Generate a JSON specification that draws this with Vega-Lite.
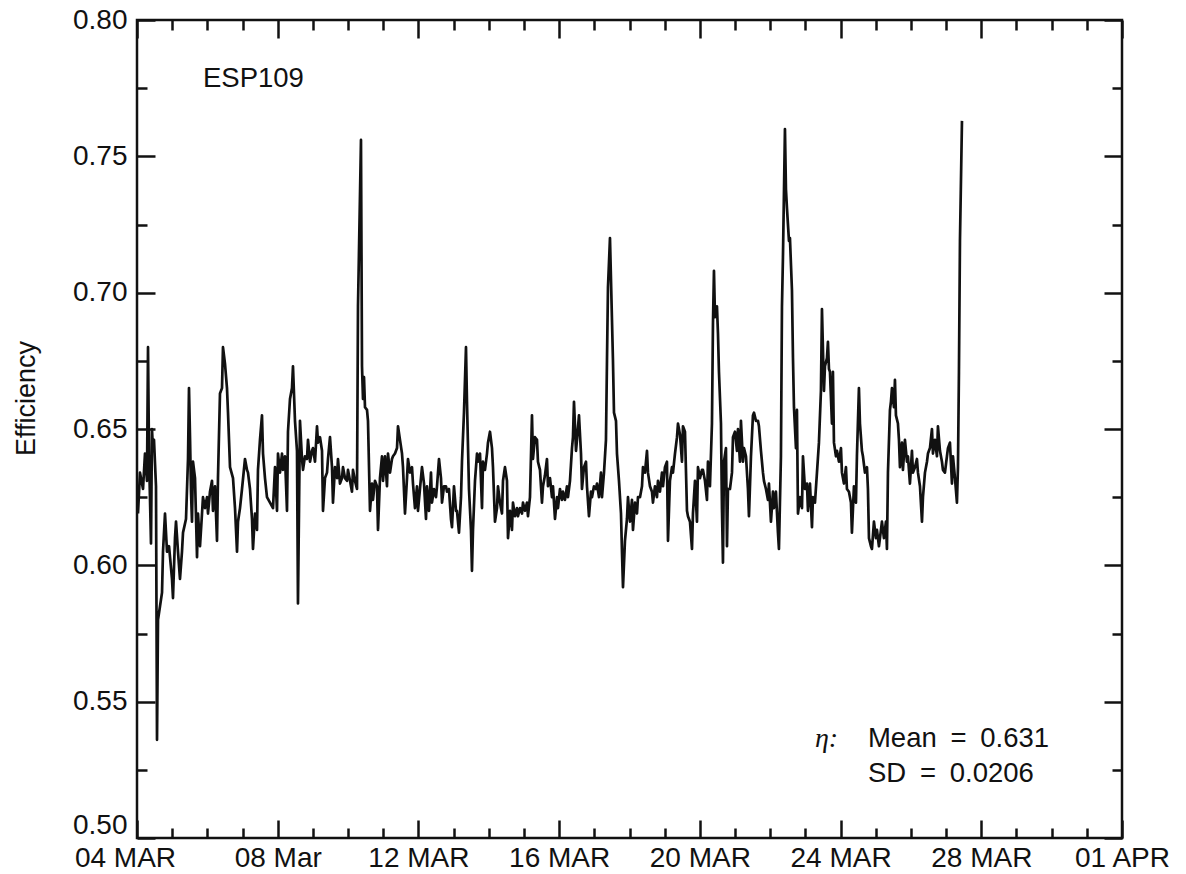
{
  "$schema": "https://vega.github.io/schema/vega-lite/v6.json",
  "width": 985,
  "height": 818,
  "autosize": {"type": "none"},
  "padding": {"left": 137, "top": 20, "right": 64, "bottom": 36},
  "background": "white",
  "config": {
    "font": "Liberation Sans",
    "view": {"stroke": "#111111", "strokeWidth": 2.5},
    "axis": {
      "grid": false,
      "domain": false,
      "tickColor": "#111111",
      "tickWidth": 2.5,
      "labelColor": "#111111",
      "labelFont": "Liberation Sans",
      "labelFontSize": 28,
      "labelOverlap": false,
      "labelFlush": false,
      "labelBound": false,
      "titleFont": "Liberation Sans",
      "titleFontWeight": "normal",
      "titleFontSize": 27,
      "titleColor": "#111111"
    }
  },
  "data": {"values": [
    {"day":4.028,"eff":0.619},{"day":4.085,"eff":0.634},{"day":4.171,"eff":0.628},{"day":4.227,"eff":0.641},{"day":4.284,"eff":0.631},{"day":4.313,"eff":0.680},{"day":4.341,"eff":0.641},{"day":4.398,"eff":0.608},{"day":4.426,"eff":0.650},{"day":4.455,"eff":0.642},{"day":4.483,"eff":0.646},{"day":4.540,"eff":0.629},{"day":4.569,"eff":0.536},{"day":4.597,"eff":0.580},{"day":4.654,"eff":0.585},{"day":4.711,"eff":0.590},{"day":4.739,"eff":0.605},{"day":4.796,"eff":0.619},{"day":4.853,"eff":0.605},{"day":4.910,"eff":0.607},{"day":4.995,"eff":0.595},{"day":5.023,"eff":0.588},{"day":5.080,"eff":0.610},{"day":5.109,"eff":0.616},{"day":5.165,"eff":0.605},{"day":5.222,"eff":0.595},{"day":5.279,"eff":0.605},{"day":5.308,"eff":0.612},{"day":5.393,"eff":0.617},{"day":5.450,"eff":0.639},{"day":5.478,"eff":0.665},{"day":5.507,"eff":0.647},{"day":5.535,"eff":0.627},{"day":5.563,"eff":0.616},{"day":5.592,"eff":0.638},{"day":5.649,"eff":0.632},{"day":5.706,"eff":0.603},{"day":5.734,"eff":0.619},{"day":5.791,"eff":0.607},{"day":5.848,"eff":0.619},{"day":5.876,"eff":0.625},{"day":5.933,"eff":0.621},{"day":5.990,"eff":0.625},{"day":6.018,"eff":0.619},{"day":6.075,"eff":0.627},{"day":6.132,"eff":0.631},{"day":6.160,"eff":0.620},{"day":6.217,"eff":0.629},{"day":6.274,"eff":0.609},{"day":6.302,"eff":0.632},{"day":6.359,"eff":0.663},{"day":6.416,"eff":0.665},{"day":6.444,"eff":0.680},{"day":6.501,"eff":0.674},{"day":6.558,"eff":0.665},{"day":6.587,"eff":0.656},{"day":6.644,"eff":0.636},{"day":6.729,"eff":0.632},{"day":6.786,"eff":0.621},{"day":6.843,"eff":0.605},{"day":6.871,"eff":0.616},{"day":6.928,"eff":0.621},{"day":6.985,"eff":0.628},{"day":7.070,"eff":0.639},{"day":7.127,"eff":0.635},{"day":7.155,"eff":0.634},{"day":7.212,"eff":0.628},{"day":7.269,"eff":0.617},{"day":7.297,"eff":0.606},{"day":7.354,"eff":0.619},{"day":7.411,"eff":0.613},{"day":7.439,"eff":0.635},{"day":7.496,"eff":0.646},{"day":7.553,"eff":0.655},{"day":7.582,"eff":0.641},{"day":7.638,"eff":0.632},{"day":7.695,"eff":0.625},{"day":7.781,"eff":0.623},{"day":7.866,"eff":0.621},{"day":7.923,"eff":0.636},{"day":7.980,"eff":0.620},
    {"day":8.008,"eff":0.641},{"day":8.065,"eff":0.634},{"day":8.122,"eff":0.641},{"day":8.150,"eff":0.635},{"day":8.207,"eff":0.640},{"day":8.264,"eff":0.620},{"day":8.292,"eff":0.649},{"day":8.349,"eff":0.661},{"day":8.406,"eff":0.665},{"day":8.434,"eff":0.673},{"day":8.491,"eff":0.653},{"day":8.548,"eff":0.642},{"day":8.576,"eff":0.586},{"day":8.633,"eff":0.653},{"day":8.690,"eff":0.639},{"day":8.719,"eff":0.635},{"day":8.775,"eff":0.640},{"day":8.832,"eff":0.639},{"day":8.861,"eff":0.646},{"day":8.918,"eff":0.638},{"day":8.974,"eff":0.642},{"day":9.003,"eff":0.643},{"day":9.060,"eff":0.638},{"day":9.117,"eff":0.651},{"day":9.145,"eff":0.645},{"day":9.202,"eff":0.647},{"day":9.259,"eff":0.642},{"day":9.287,"eff":0.620},{"day":9.344,"eff":0.632},{"day":9.401,"eff":0.634},{"day":9.429,"eff":0.639},{"day":9.486,"eff":0.647},{"day":9.543,"eff":0.636},{"day":9.571,"eff":0.623},{"day":9.628,"eff":0.636},{"day":9.685,"eff":0.632},{"day":9.713,"eff":0.639},{"day":9.770,"eff":0.630},{"day":9.827,"eff":0.632},{"day":9.856,"eff":0.636},{"day":9.912,"eff":0.632},{"day":9.969,"eff":0.631},{"day":9.998,"eff":0.635},{"day":10.055,"eff":0.631},{"day":10.111,"eff":0.627},{"day":10.140,"eff":0.635},{"day":10.197,"eff":0.631},{"day":10.254,"eff":0.628},{"day":10.282,"eff":0.695},{"day":10.367,"eff":0.756},{"day":10.396,"eff":0.673},{"day":10.424,"eff":0.661},{"day":10.453,"eff":0.669},{"day":10.481,"eff":0.658},{"day":10.538,"eff":0.657},{"day":10.566,"eff":0.653},{"day":10.623,"eff":0.620},{"day":10.680,"eff":0.630},{"day":10.708,"eff":0.624},{"day":10.765,"eff":0.631},{"day":10.822,"eff":0.629},{"day":10.851,"eff":0.613},{"day":10.907,"eff":0.632},{"day":10.964,"eff":0.640},{"day":10.993,"eff":0.631},{"day":11.049,"eff":0.640},{"day":11.106,"eff":0.629},{"day":11.135,"eff":0.641},{"day":11.192,"eff":0.634},{"day":11.248,"eff":0.639},{"day":11.277,"eff":0.640},{"day":11.334,"eff":0.641},{"day":11.391,"eff":0.643},{"day":11.419,"eff":0.651},{"day":11.476,"eff":0.646},{"day":11.533,"eff":0.641},{"day":11.561,"eff":0.636},{"day":11.618,"eff":0.619},{"day":11.675,"eff":0.632},{"day":11.703,"eff":0.639},{"day":11.760,"eff":0.634},{"day":11.817,"eff":0.636},{"day":11.845,"eff":0.630},
    {"day":11.902,"eff":0.621},{"day":11.959,"eff":0.629},{"day":11.987,"eff":0.620},{"day":12.044,"eff":0.628},{"day":12.101,"eff":0.636},{"day":12.158,"eff":0.630},{"day":12.215,"eff":0.617},{"day":12.243,"eff":0.629},{"day":12.300,"eff":0.620},{"day":12.357,"eff":0.634},{"day":12.385,"eff":0.623},{"day":12.442,"eff":0.628},{"day":12.499,"eff":0.625},{"day":12.528,"eff":0.629},{"day":12.584,"eff":0.639},{"day":12.641,"eff":0.632},{"day":12.670,"eff":0.623},{"day":12.726,"eff":0.629},{"day":12.783,"eff":0.629},{"day":12.812,"eff":0.627},{"day":12.868,"eff":0.628},{"day":12.925,"eff":0.617},{"day":12.954,"eff":0.614},{"day":13.011,"eff":0.629},{"day":13.068,"eff":0.620},{"day":13.096,"eff":0.620},{"day":13.153,"eff":0.612},{"day":13.210,"eff":0.625},{"day":13.238,"eff":0.638},{"day":13.295,"eff":0.656},{"day":13.352,"eff":0.680},{"day":13.380,"eff":0.660},{"day":13.437,"eff":0.628},{"day":13.494,"eff":0.613},{"day":13.522,"eff":0.598},{"day":13.551,"eff":0.613},{"day":13.608,"eff":0.631},{"day":13.665,"eff":0.641},{"day":13.693,"eff":0.638},{"day":13.750,"eff":0.641},{"day":13.807,"eff":0.621},{"day":13.835,"eff":0.638},{"day":13.892,"eff":0.635},{"day":13.949,"eff":0.641},{"day":13.977,"eff":0.645},{"day":14.034,"eff":0.649},{"day":14.091,"eff":0.643},{"day":14.119,"eff":0.636},{"day":14.176,"eff":0.616},{"day":14.233,"eff":0.621},{"day":14.261,"eff":0.629},{"day":14.318,"eff":0.623},{"day":14.375,"eff":0.619},{"day":14.404,"eff":0.631},{"day":14.460,"eff":0.636},{"day":14.517,"eff":0.631},{"day":14.546,"eff":0.610},{"day":14.603,"eff":0.620},{"day":14.659,"eff":0.613},{"day":14.688,"eff":0.623},{"day":14.745,"eff":0.618},{"day":14.802,"eff":0.621},{"day":14.830,"eff":0.618},{"day":14.887,"eff":0.621},{"day":14.944,"eff":0.619},{"day":14.972,"eff":0.623},{"day":15.029,"eff":0.620},{"day":15.086,"eff":0.623},{"day":15.114,"eff":0.618},{"day":15.171,"eff":0.625},{"day":15.228,"eff":0.655},{"day":15.256,"eff":0.639},{"day":15.313,"eff":0.647},{"day":15.370,"eff":0.646},{"day":15.398,"eff":0.638},{"day":15.455,"eff":0.635},{"day":15.512,"eff":0.623},{"day":15.541,"eff":0.629},{"day":15.597,"eff":0.633},{"day":15.654,"eff":0.639},{"day":15.683,"eff":0.629},{"day":15.740,"eff":0.632},{"day":15.796,"eff":0.625},{"day":15.825,"eff":0.629},{"day":15.882,"eff":0.617},{"day":15.939,"eff":0.625},{"day":15.967,"eff":0.621},
    {"day":16.024,"eff":0.628},{"day":16.081,"eff":0.624},{"day":16.109,"eff":0.627},{"day":16.166,"eff":0.624},{"day":16.223,"eff":0.629},{"day":16.251,"eff":0.625},{"day":16.308,"eff":0.631},{"day":16.365,"eff":0.643},{"day":16.393,"eff":0.647},{"day":16.422,"eff":0.660},{"day":16.479,"eff":0.642},{"day":16.507,"eff":0.646},{"day":16.564,"eff":0.655},{"day":16.621,"eff":0.641},{"day":16.649,"eff":0.628},{"day":16.706,"eff":0.636},{"day":16.763,"eff":0.638},{"day":16.791,"eff":0.629},{"day":16.848,"eff":0.618},{"day":16.905,"eff":0.627},{"day":16.933,"eff":0.625},{"day":16.990,"eff":0.629},{"day":17.047,"eff":0.628},{"day":17.076,"eff":0.630},{"day":17.132,"eff":0.625},{"day":17.189,"eff":0.634},{"day":17.218,"eff":0.625},{"day":17.275,"eff":0.634},{"day":17.331,"eff":0.646},{"day":17.360,"eff":0.675},{"day":17.388,"eff":0.702},{"day":17.445,"eff":0.720},{"day":17.502,"eff":0.690},{"day":17.530,"eff":0.675},{"day":17.559,"eff":0.656},{"day":17.616,"eff":0.653},{"day":17.644,"eff":0.641},{"day":17.701,"eff":0.631},{"day":17.758,"eff":0.619},{"day":17.786,"eff":0.605},{"day":17.815,"eff":0.592},{"day":17.871,"eff":0.609},{"day":17.928,"eff":0.617},{"day":17.957,"eff":0.625},{"day":18.014,"eff":0.616},{"day":18.070,"eff":0.624},{"day":18.099,"eff":0.613},{"day":18.156,"eff":0.623},{"day":18.213,"eff":0.619},{"day":18.241,"eff":0.625},{"day":18.298,"eff":0.625},{"day":18.355,"eff":0.629},{"day":18.383,"eff":0.636},{"day":18.440,"eff":0.634},{"day":18.497,"eff":0.642},{"day":18.525,"eff":0.634},{"day":18.582,"eff":0.629},{"day":18.639,"eff":0.627},{"day":18.667,"eff":0.623},{"day":18.724,"eff":0.629},{"day":18.781,"eff":0.625},{"day":18.809,"eff":0.631},{"day":18.866,"eff":0.627},{"day":18.923,"eff":0.634},{"day":18.952,"eff":0.629},{"day":19.008,"eff":0.636},{"day":19.065,"eff":0.638},{"day":19.094,"eff":0.609},{"day":19.150,"eff":0.631},{"day":19.207,"eff":0.636},{"day":19.236,"eff":0.634},{"day":19.293,"eff":0.641},{"day":19.350,"eff":0.647},{"day":19.378,"eff":0.652},{"day":19.435,"eff":0.648},{"day":19.492,"eff":0.638},{"day":19.520,"eff":0.651},{"day":19.577,"eff":0.649},{"day":19.634,"eff":0.620},{"day":19.662,"eff":0.618},{"day":19.719,"eff":0.616},{"day":19.776,"eff":0.606},{"day":19.804,"eff":0.619},{"day":19.861,"eff":0.631},{"day":19.918,"eff":0.616},{"day":19.946,"eff":0.636},
    {"day":20.003,"eff":0.632},{"day":20.060,"eff":0.635},{"day":20.088,"eff":0.635},{"day":20.145,"eff":0.631},{"day":20.202,"eff":0.624},{"day":20.230,"eff":0.638},{"day":20.287,"eff":0.629},{"day":20.344,"eff":0.652},{"day":20.373,"eff":0.689},{"day":20.401,"eff":0.708},{"day":20.430,"eff":0.691},{"day":20.486,"eff":0.695},{"day":20.515,"eff":0.685},{"day":20.543,"eff":0.671},{"day":20.600,"eff":0.652},{"day":20.628,"eff":0.621},{"day":20.657,"eff":0.601},{"day":20.685,"eff":0.638},{"day":20.742,"eff":0.643},{"day":20.771,"eff":0.607},{"day":20.799,"eff":0.628},{"day":20.856,"eff":0.628},{"day":20.913,"eff":0.634},{"day":20.941,"eff":0.647},{"day":20.998,"eff":0.649},{"day":21.055,"eff":0.642},{"day":21.083,"eff":0.650},{"day":21.140,"eff":0.638},{"day":21.168,"eff":0.653},{"day":21.225,"eff":0.638},{"day":21.254,"eff":0.643},{"day":21.311,"eff":0.640},{"day":21.367,"eff":0.628},{"day":21.396,"eff":0.618},{"day":21.453,"eff":0.640},{"day":21.509,"eff":0.655},{"day":21.538,"eff":0.656},{"day":21.595,"eff":0.653},{"day":21.652,"eff":0.653},{"day":21.680,"eff":0.651},{"day":21.737,"eff":0.642},{"day":21.794,"eff":0.634},{"day":21.822,"eff":0.631},{"day":21.879,"eff":0.628},{"day":21.936,"eff":0.624},{"day":21.964,"eff":0.630},{"day":22.021,"eff":0.616},{"day":22.078,"eff":0.627},{"day":22.106,"eff":0.621},{"day":22.163,"eff":0.627},{"day":22.220,"eff":0.612},{"day":22.248,"eff":0.606},{"day":22.305,"eff":0.640},{"day":22.334,"eff":0.695},{"day":22.362,"eff":0.713},{"day":22.419,"eff":0.760},{"day":22.447,"eff":0.738},{"day":22.476,"eff":0.731},{"day":22.533,"eff":0.719},{"day":22.561,"eff":0.720},{"day":22.618,"eff":0.701},{"day":22.647,"eff":0.676},{"day":22.675,"eff":0.658},{"day":22.732,"eff":0.643},{"day":22.760,"eff":0.657},{"day":22.789,"eff":0.619},{"day":22.846,"eff":0.625},{"day":22.903,"eff":0.621},{"day":22.931,"eff":0.640},{"day":22.988,"eff":0.628},{"day":23.045,"eff":0.630},{"day":23.073,"eff":0.620},{"day":23.130,"eff":0.630},{"day":23.187,"eff":0.614},{"day":23.215,"eff":0.625},{"day":23.272,"eff":0.623},{"day":23.329,"eff":0.634},{"day":23.385,"eff":0.645},{"day":23.442,"eff":0.664},{"day":23.471,"eff":0.694},{"day":23.528,"eff":0.664},{"day":23.556,"eff":0.673},{"day":23.613,"eff":0.676},{"day":23.641,"eff":0.682},{"day":23.670,"eff":0.672},{"day":23.698,"eff":0.671},{"day":23.755,"eff":0.652},{"day":23.783,"eff":0.671},{"day":23.812,"eff":0.645},{"day":23.869,"eff":0.640},{"day":23.897,"eff":0.642},{"day":23.954,"eff":0.638},
    {"day":24.011,"eff":0.643},{"day":24.039,"eff":0.634},{"day":24.096,"eff":0.630},{"day":24.153,"eff":0.636},{"day":24.181,"eff":0.628},{"day":24.238,"eff":0.627},{"day":24.295,"eff":0.623},{"day":24.323,"eff":0.612},{"day":24.380,"eff":0.629},{"day":24.437,"eff":0.623},{"day":24.465,"eff":0.640},{"day":24.522,"eff":0.665},{"day":24.551,"eff":0.652},{"day":24.607,"eff":0.642},{"day":24.636,"eff":0.640},{"day":24.693,"eff":0.634},{"day":24.750,"eff":0.636},{"day":24.778,"eff":0.628},{"day":24.807,"eff":0.610},{"day":24.863,"eff":0.607},{"day":24.892,"eff":0.606},{"day":24.949,"eff":0.616},{"day":25.005,"eff":0.610},{"day":25.034,"eff":0.613},{"day":25.091,"eff":0.607},{"day":25.148,"eff":0.613},{"day":25.176,"eff":0.616},{"day":25.233,"eff":0.610},{"day":25.290,"eff":0.616},{"day":25.318,"eff":0.606},{"day":25.347,"eff":0.634},{"day":25.404,"eff":0.657},{"day":25.432,"eff":0.660},{"day":25.461,"eff":0.665},{"day":25.517,"eff":0.658},{"day":25.546,"eff":0.668},{"day":25.574,"eff":0.655},{"day":25.631,"eff":0.652},{"day":25.660,"eff":0.646},{"day":25.688,"eff":0.636},{"day":25.745,"eff":0.645},{"day":25.773,"eff":0.635},{"day":25.830,"eff":0.646},{"day":25.887,"eff":0.638},{"day":25.915,"eff":0.640},{"day":25.972,"eff":0.630},{"day":26.029,"eff":0.642},{"day":26.058,"eff":0.634},{"day":26.115,"eff":0.636},{"day":26.171,"eff":0.639},{"day":26.200,"eff":0.634},{"day":26.257,"eff":0.629},{"day":26.314,"eff":0.616},{"day":26.342,"eff":0.625},{"day":26.399,"eff":0.634},{"day":26.456,"eff":0.638},{"day":26.484,"eff":0.641},{"day":26.541,"eff":0.643},{"day":26.598,"eff":0.650},{"day":26.626,"eff":0.641},{"day":26.683,"eff":0.646},{"day":26.740,"eff":0.640},{"day":26.768,"eff":0.651},{"day":26.825,"eff":0.642},{"day":26.882,"eff":0.638},{"day":26.910,"eff":0.635},{"day":26.967,"eff":0.634},{"day":27.024,"eff":0.640},{"day":27.053,"eff":0.643},{"day":27.109,"eff":0.645},{"day":27.166,"eff":0.630},{"day":27.195,"eff":0.640},{"day":27.252,"eff":0.632},{"day":27.308,"eff":0.623},{"day":27.337,"eff":0.636},{"day":27.365,"eff":0.671},{"day":27.394,"eff":0.719},{"day":27.451,"eff":0.763}
  ]},
  "layer": [
    {
      "mark": {"type": "line", "color": "#111111", "strokeWidth": 2.7, "strokeJoin": "round"},
      "encoding": {
        "x": {"field": "day", "type": "quantitative", "scale": {"domain": [4, 32], "nice": false, "zero": false},
          "axis": {"orient": "bottom", "values": [4, 8, 12, 16, 20, 24, 28, 32], "tickSize": -18, "labelPadding": 24, "title": null,
            "labelOffset": {"condition": {"test": "datum.value == 4", "value": -12}, "value": 0},
            "labelExpr": "datum.value == 4 ? '04 MAR' : datum.value == 8 ? '08 Mar' : datum.value == 12 ? '12 MAR' : datum.value == 16 ? '16 MAR' : datum.value == 20 ? '20 MAR' : datum.value == 24 ? '24 MAR' : datum.value == 28 ? '28 MAR' : '01 APR'"}},
        "y": {"field": "eff", "type": "quantitative", "scale": {"domain": [0.5, 0.8], "nice": false, "zero": false},
          "axis": {"orient": "left", "values": [0.5, 0.55, 0.6, 0.65, 0.7, 0.75, 0.8], "format": ".2f", "tickSize": -18, "labelPadding": 28,
            "labelOffset": {"condition": {"test": "datum.value < 0.51", "value": -13}, "value": 0},
            "title": "Efficiency", "titlePadding": 32, "titleY": 378}}
      }
    },
    {
      "mark": {"type": "line", "opacity": 0},
      "encoding": {
        "x": {"field": "day", "type": "quantitative", "scale": {"domain": [4, 32], "nice": false, "zero": false},
          "axis": {"orient": "bottom", "values": [5,6,7,9,10,11,13,14,15,17,18,19,21,22,23,25,26,27,29,30,31], "tickSize": -10, "labels": false, "title": null}},
        "y": {"field": "eff", "type": "quantitative", "scale": {"domain": [0.5, 0.8], "nice": false, "zero": false},
          "axis": {"orient": "left", "values": [0.525, 0.575, 0.625, 0.675, 0.725, 0.775], "tickSize": -10, "labels": false, "title": null}}
      }
    },
    {
      "mark": {"type": "line", "opacity": 0},
      "encoding": {
        "x": {"field": "day", "type": "quantitative", "scale": {"domain": [4, 32], "nice": false, "zero": false},
          "axis": {"orient": "top", "values": [4, 8, 12, 16, 20, 24, 28, 32], "tickSize": -18, "labels": false, "title": null}},
        "y": {"field": "eff", "type": "quantitative", "scale": {"domain": [0.5, 0.8], "nice": false, "zero": false},
          "axis": {"orient": "right", "values": [0.5, 0.55, 0.6, 0.65, 0.7, 0.75, 0.8], "tickSize": -18, "labels": false, "title": null}}
      }
    },
    {
      "mark": {"type": "line", "opacity": 0},
      "encoding": {
        "x": {"field": "day", "type": "quantitative", "scale": {"domain": [4, 32], "nice": false, "zero": false},
          "axis": {"orient": "top", "values": [5,6,7,9,10,11,13,14,15,17,18,19,21,22,23,25,26,27,29,30,31], "tickSize": -10, "labels": false, "title": null}},
        "y": {"field": "eff", "type": "quantitative", "scale": {"domain": [0.5, 0.8], "nice": false, "zero": false},
          "axis": {"orient": "right", "values": [0.525, 0.575, 0.625, 0.675, 0.725, 0.775], "tickSize": -10, "labels": false, "title": null}}
      }
    },
    {
      "data": {"values": [{}]},
      "mark": {"type": "text", "text": "ESP109", "align": "left", "baseline": "alphabetic", "fontSize": 27.5, "font": "Liberation Sans", "color": "#111111"},
      "encoding": {
        "x": {"datum": 5.876, "type": "quantitative", "axis": null},
        "y": {"datum": 0.7754, "type": "quantitative", "axis": null}
      }
    },
    {
      "data": {"values": [{}]},
      "mark": {"type": "text", "text": "η:", "align": "left", "baseline": "alphabetic", "fontSize": 28, "font": "Liberation Serif", "fontStyle": "italic", "color": "#111111"},
      "encoding": {
        "x": {"datum": 23.272, "type": "quantitative", "axis": null},
        "y": {"datum": 0.5334, "type": "quantitative", "axis": null}
      }
    },
    {
      "data": {"values": [{}]},
      "mark": {"type": "text", "text": "Mean\u2002=\u20020.631", "align": "left", "baseline": "alphabetic", "fontSize": 27.5, "font": "Liberation Sans", "color": "#111111"},
      "encoding": {
        "x": {"datum": 24.778, "type": "quantitative", "axis": null},
        "y": {"datum": 0.5334, "type": "quantitative", "axis": null}
      }
    },
    {
      "data": {"values": [{}]},
      "mark": {"type": "text", "text": "SD\u2002=\u20020.0206", "align": "left", "baseline": "alphabetic", "fontSize": 27.5, "font": "Liberation Sans", "color": "#111111"},
      "encoding": {
        "x": {"datum": 24.778, "type": "quantitative", "axis": null},
        "y": {"datum": 0.5206, "type": "quantitative", "axis": null}
      }
    }
  ],
  "resolve": {"axis": {"x": "independent", "y": "independent"}}
}
